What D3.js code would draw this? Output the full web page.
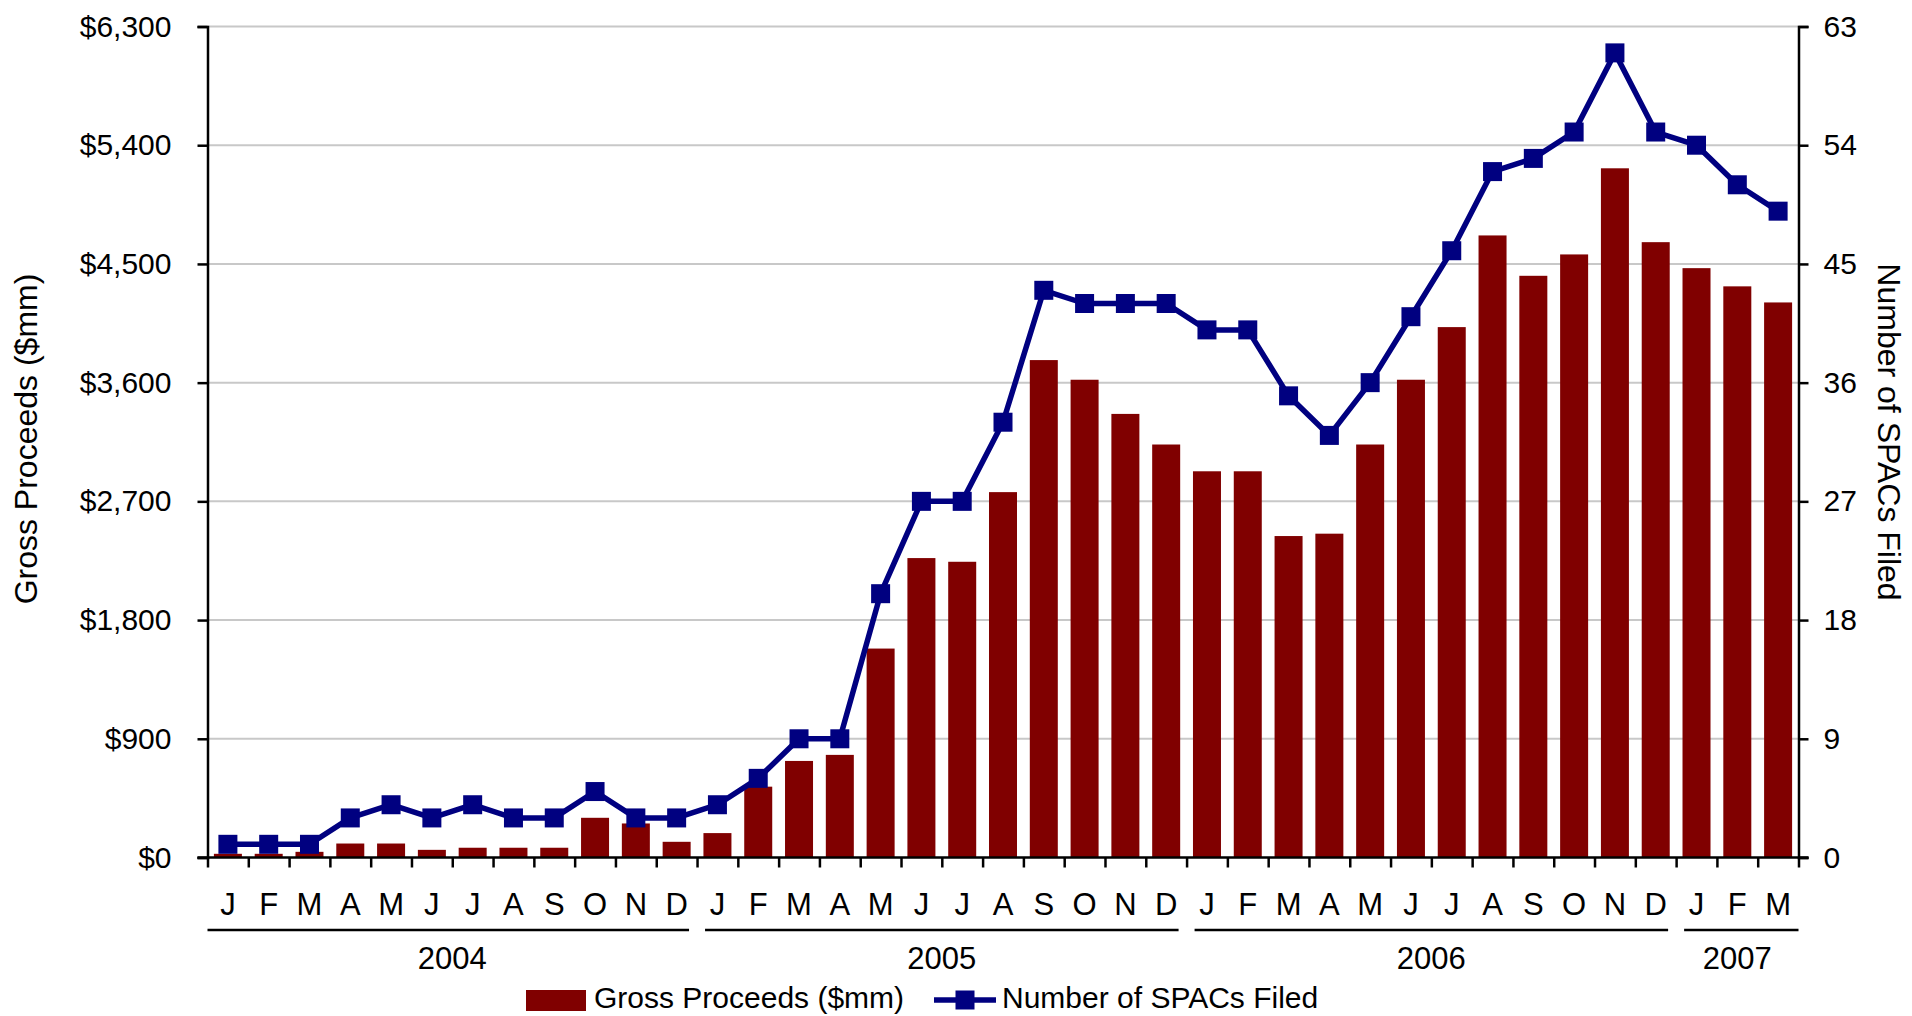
<!DOCTYPE html>
<html>
<head>
<meta charset="utf-8">
<script src="https://cdn.jsdelivr.net/npm/d3@7"></script>
<style>
  body { margin: 0; background: #fff; }
  text { font-family: "Liberation Sans", Arial, sans-serif; fill: #000; }
</style>
</head>
<body>
<script>
// chart size
const width = 1912;
const height = 1016;

// data
const months = ['J','F','M','A','M','J','J','A','S','O','N','D',
                'J','F','M','A','M','J','J','A','S','O','N','D',
                'J','F','M','A','M','J','J','A','S','O','N','D',
                'J','F','M'];
const years = ['2004', '2005', '2006', '2007'];
const yearSizes = [12, 12, 12, 3];
const proceeds = [28, 28, 43, 106, 106, 58, 74, 74, 74, 301, 258, 119,
                  185, 537, 732, 778, 1584, 2270, 2242, 2770, 3771, 3622, 3363, 3131,
                  2928, 2928, 2437, 2455, 3131, 3622, 4021, 4716, 4410, 4572, 5225, 4665,
                  4468, 4330, 4208];
const spacs = [1, 1, 1, 3, 4, 3, 4, 3, 3, 5, 3, 3,
               4, 6, 9, 9, 20, 27, 27, 33, 43, 42, 42, 42,
               40, 40, 35, 32, 36, 41, 46, 52, 53, 55, 61, 55,
               54, 51, 49];
const leftTicks = [0, 900, 1800, 2700, 3600, 4500, 5400, 6300];
const rightTicks = [0, 9, 18, 27, 36, 45, 54, 63];

const barColor = '#800000';
const lineColor = '#000080';

// plot area
const plot = { left: 207.5, right: 1798.5, top: 26.5, bottom: 857.5 };

const svg = d3.select('body').append('svg')
  .attr('width', width)
  .attr('height', height);

const n = months.length;

const xBand = d3.scaleBand()
  .domain(d3.range(n))
  .range([plot.left, plot.right]);

const xEdge = d3.scaleLinear()
  .domain([0, n])
  .range([plot.left, plot.right]);

const yLeft = d3.scaleLinear()
  .domain([0, 6300])
  .range([plot.bottom, plot.top]);

const yRight = d3.scaleLinear()
  .domain([0, 63])
  .range([plot.bottom, plot.top]);

// gridlines
svg.append('g')
  .selectAll('line')
  .data(leftTicks.slice(1))
  .enter()
  .append('line')
  .attr('x1', plot.left)
  .attr('x2', plot.right)
  .attr('y1', d => yLeft(d))
  .attr('y2', d => yLeft(d))
  .attr('stroke', '#c8c8c8')
  .attr('stroke-width', 2);

// bars
const barW = 28;
svg.append('g')
  .selectAll('rect')
  .data(proceeds)
  .enter()
  .append('rect')
  .attr('x', (d, i) => xBand(i) + xBand.bandwidth() / 2 - barW / 2)
  .attr('y', d => yLeft(d))
  .attr('width', barW)
  .attr('height', d => plot.bottom - yLeft(d))
  .attr('fill', barColor);

// left axis
const leftAxis = svg.append('g')
  .attr('transform', 'translate(' + plot.left + ',0)')
  .call(d3.axisLeft(yLeft)
    .tickValues(leftTicks)
    .tickSize(10)
    .tickPadding(26)
    .tickFormat(d => '$' + d3.format(',')(d)));

// right axis
const rightAxis = svg.append('g')
  .attr('transform', 'translate(' + plot.right + ',0)')
  .call(d3.axisRight(yRight)
    .tickValues(rightTicks)
    .tickSize(10)
    .tickPadding(15));

// x axis, ticks at month boundaries
const xAxis = svg.append('g')
  .attr('transform', 'translate(0,' + plot.bottom + ')')
  .call(d3.axisBottom(xEdge)
    .tickValues(d3.range(n + 1))
    .tickSize(10)
    .tickFormat(''));

[leftAxis, rightAxis, xAxis].forEach(function(g) {
  g.select('.domain').attr('stroke', '#000').attr('stroke-width', 2.5);
  g.selectAll('.tick line').attr('stroke', '#000').attr('stroke-width', 2.5);
  g.selectAll('.tick text')
    .style('font-family', '"Liberation Sans", Arial, sans-serif')
    .style('font-size', '30px')
    .attr('fill', '#000');
});
xAxis.select('.domain').attr('d', 'M' + (plot.left - 10) + ',0H' + (plot.right + 10));

// month labels
svg.append('g')
  .selectAll('text')
  .data(months)
  .enter()
  .append('text')
  .attr('x', (d, i) => xBand(i) + xBand.bandwidth() / 2)
  .attr('y', 915)
  .attr('text-anchor', 'middle')
  .style('font-size', '31px')
  .text(d => d);

// year groups
let start = 0;
years.forEach(function(y, k) {
  const end = start + yearSizes[k];
  const x1 = k === 0 ? xEdge(start) : xEdge(start) + 8;
  const x2 = k === years.length - 1 ? xEdge(end) : xEdge(end) - 8;
  svg.append('line')
    .attr('x1', x1).attr('x2', x2)
    .attr('y1', 930).attr('y2', 930)
    .attr('stroke', '#000')
    .attr('stroke-width', 2.5);
  svg.append('text')
    .attr('x', (xEdge(start) + xEdge(end)) / 2)
    .attr('y', 969)
    .attr('text-anchor', 'middle')
    .style('font-size', '31px')
    .text(y);
  start = end;
});

// line series
const line = d3.line()
  .x((d, i) => xBand(i) + xBand.bandwidth() / 2)
  .y(d => yRight(d));

svg.append('path')
  .datum(spacs)
  .attr('d', line)
  .attr('fill', 'none')
  .attr('stroke', lineColor)
  .attr('stroke-width', 5.5)
  .attr('stroke-linejoin', 'round');

const mk = 19;
svg.append('g')
  .selectAll('rect')
  .data(spacs)
  .enter()
  .append('rect')
  .attr('x', (d, i) => xBand(i) + xBand.bandwidth() / 2 - mk / 2)
  .attr('y', d => yRight(d) - mk / 2)
  .attr('width', mk)
  .attr('height', mk)
  .attr('fill', lineColor);

// axis titles
svg.append('text')
  .attr('transform', 'translate(37,439) rotate(-90)')
  .attr('text-anchor', 'middle')
  .style('font-size', '32px')
  .text('Gross Proceeds ($mm)');

svg.append('text')
  .attr('transform', 'translate(1878,432) rotate(90)')
  .attr('text-anchor', 'middle')
  .style('font-size', '32px')
  .text('Number of SPACs Filed');

// legend
const legend = svg.append('g');
legend.append('rect')
  .attr('x', 526).attr('y', 990)
  .attr('width', 60).attr('height', 21)
  .attr('fill', barColor);
legend.append('text')
  .attr('x', 594).attr('y', 1008)
  .style('font-size', '30px')
  .text('Gross Proceeds ($mm)');
legend.append('line')
  .attr('x1', 934).attr('x2', 996)
  .attr('y1', 1000).attr('y2', 1000)
  .attr('stroke', lineColor)
  .attr('stroke-width', 5.5);
legend.append('rect')
  .attr('x', 965 - mk / 2).attr('y', 1000 - mk / 2)
  .attr('width', mk).attr('height', mk)
  .attr('fill', lineColor);
legend.append('text')
  .attr('x', 1002).attr('y', 1008)
  .style('font-size', '30px')
  .text('Number of SPACs Filed');
</script>
</body>
</html>
